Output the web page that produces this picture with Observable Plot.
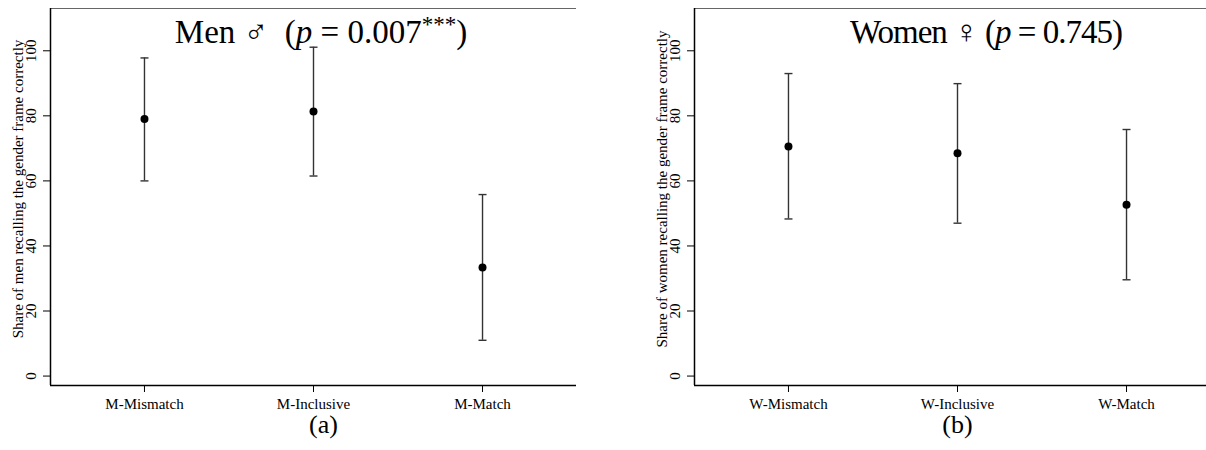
<!DOCTYPE html>
<html>
<head>
<meta charset="utf-8">
<script src="https://cdn.jsdelivr.net/npm/d3@7"></script>
<script src="https://cdn.jsdelivr.net/npm/@observablehq/plot@0.6"></script>
<style>
  html, body { margin: 0; padding: 0; background: white; }
  #wrap { position: relative; width: 1206px; height: 450px; overflow: hidden; background: white; }
  #wrap > div { position: absolute; top: 0; width: 576px; height: 450px; }
  #wrap svg { max-width: none !important; width: 576px; height: 450px; display: block; }
</style>
</head>
<body>
<div id="wrap"><div id="left"></div><div id="right"></div></div>
<script>
const menCats = ["M-Mismatch", "M-Inclusive", "M-Match"];
const menMean = [79.0, 81.3, 33.4];
const menLow = [60.0, 61.5, 11.0];
const menHigh = [97.8, 101.1, 55.8];

const womenCats = ["W-Mismatch", "W-Inclusive", "W-Match"];
const womenMean = [70.6, 68.5, 52.7];
const womenLow = [48.3, 47.0, 29.6];
const womenHigh = [93.0, 89.9, 75.8];

const yTicks = [0, 20, 40, 60, 80, 100];
const menYLabel = "Share of men recalling the gender frame correctly";
const womenYLabel = "Share of women recalling the gender frame correctly";

const xDomain = [0.444, 3.556];
const yDomain = [-2.9, 113];

const capSymbol = {
  draw(ctx, size) {
    const w = Math.sqrt(size / Math.PI);
    ctx.moveTo(-w, 0);
    ctx.lineTo(w, 0);
  }
};

function panel(cats, mean, lo, hi, yLabel, caption, captionDx) {
  const rows = cats.map((c, i) => ({pos: i + 1, cat: c, mean: mean[i], lo: lo[i], hi: hi[i]}));
  return Plot.plot({
    width: 576,
    height: 450,
    marginTop: 8,
    marginBottom: 65,
    marginLeft: 50,
    marginRight: 0,
    style: {fontFamily: "'Liberation Serif', 'Times New Roman', serif", fontSize: "15px", color: "#000", background: "white"},
    x: {domain: xDomain},
    y: {domain: yDomain},
    marks: [
      Plot.frame({stroke: "#666", strokeWidth: 1}),
      Plot.ruleX([xDomain[0]], {stroke: "black", strokeWidth: 1.5}),
      Plot.ruleY([yDomain[0]], {stroke: "black", strokeWidth: 1.5}),
      Plot.axisY({ticks: yTicks, tickSize: 7, tickRotate: -90, tickPadding: 8, label: null, fontSize: 15, stroke: "black"}),
      Plot.axisX({ticks: rows.map(d => d.pos), tickFormat: p => cats[p - 1], tickSize: 7, tickPadding: 6, label: null, fontSize: 15}),
      Plot.text([yLabel], {frameAnchor: "left", textAnchor: "middle", lineAnchor: "middle", rotate: -90, dx: -32, dy: -8, fontSize: 15, text: d => d, fill: "black"}),
      Plot.ruleX(rows, {x: "pos", y1: "lo", y2: "hi", stroke: "#333", strokeWidth: 1.4}),
      Plot.dot(rows, {x: "pos", y: "hi", symbol: capSymbol, r: 4, stroke: "#333", strokeWidth: 1.4, fill: "none"}),
      Plot.dot(rows, {x: "pos", y: "lo", symbol: capSymbol, r: 4, stroke: "#333", strokeWidth: 1.4, fill: "none"}),
      Plot.dot(rows, {x: "pos", y: "mean", r: 4, fill: "black", stroke: "none"}),
      Plot.text([caption], {x: 2, frameAnchor: "bottom", lineAnchor: "middle", dy: 39, dx: captionDx, fontSize: 26, text: d => d, fill: "black"})
    ]
  });
}

function addTitle(svg, cx, parts, spacing) {
  const t = d3.select(svg).append("text")
    .attr("x", cx).attr("y", 43)
    .attr("text-anchor", "middle")
    .attr("font-family", "'Liberation Serif', 'Times New Roman', serif")
    .attr("font-size", 33)
    .attr("letter-spacing", spacing)
    .attr("fill", "black");
  for (const p of parts) {
    const s = t.append("tspan").text(p.t);
    if (p.italic) s.attr("font-style", "italic");
    if (p.sup) s.attr("font-size", 23).attr("dy", -11);
    if (p.unsup) s.attr("dy", 11);
  }
}

const left = panel(menCats, menMean, menLow, menHigh, menYLabel, "(a)", 10);
addTitle(left, 321, [
  {t: "Men \u2642\u00a0\u00a0("},
  {t: "p", italic: true},
  {t: " = 0.007"},
  {t: "***", sup: true},
  {t: ")", unsup: true}
], 0);
document.getElementById("left").appendChild(left);
document.getElementById("left").style.left = "0px";

const right = panel(womenCats, womenMean, womenLow, womenHigh, womenYLabel, "(b)", 0);
addTitle(right, 342, [
  {t: "Women \u2640 ("},
  {t: "p", italic: true},
  {t: " = 0.745)"}
], -1);
document.getElementById("right").appendChild(right);
document.getElementById("right").style.left = "643.5px";
</script>
</body>
</html>
